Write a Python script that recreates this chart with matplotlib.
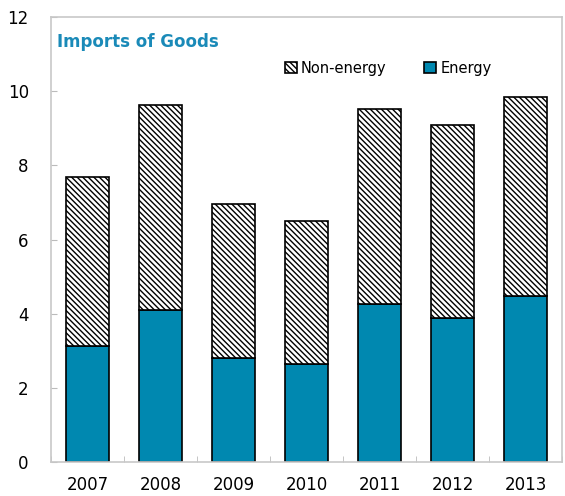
import numpy as np
import matplotlib
matplotlib.use('Agg')
from matplotlib import pyplot as plt

years = ['2007', '2008', '2009', '2010', '2011', '2012', '2013']
energy = [3.14, 4.11, 2.81, 2.65, 4.27, 3.89, 4.49]
total = [7.70, 9.62, 6.97, 6.51, 9.51, 9.08, 9.84]
non_energy = [t - e for t, e in zip(total, energy)]

plt.rcParams['hatch.color'] = '#7a7a7a'
plt.rcParams['hatch.linewidth'] = 1.0

fig = plt.figure(figsize=(5.65, 4.96), dpi=100)
ax = fig.add_axes([0.0903, 0.0685, 0.9045, 0.897])

x = np.arange(len(years))
w = 0.6
b1 = ax.bar(x, energy, w, color='#0088b0', edgecolor='black', linewidth=1.2, label='Energy')
b2 = ax.bar(x, non_energy, w, bottom=energy, color='white', edgecolor='black',
            linewidth=1.2, hatch='\\\\\\\\\\\\', label='Non-energy')

ax.set_xlim(-0.5, 6.48)
ax.set_ylim(0, 12)
ax.set_yticks(np.arange(0, 13, 2))
ax.set_xticks(x)
ax.set_xticklabels(years)
ax.set_xticks(np.arange(-0.5, 7, 1), minor=True)
ax.tick_params(axis='x', which='major', length=0, pad=10, labelsize=12)
ax.tick_params(axis='x', which='minor', direction='in', length=4, color='#bbbbbb')
ax.tick_params(axis='y', direction='in', length=4, color='#bbbbbb', labelsize=12, pad=16)
for s in ax.spines.values():
    s.set_color('#c8c8c8')
    s.set_linewidth(1.2)

ax.text(0.012, 0.965, 'Imports of Goods', transform=ax.transAxes, color='#1a8ab8',
        fontsize=12, fontweight='bold', va='top', ha='left')

ax.legend([b2, b1], ['Non-energy', 'Energy'], loc='center', bbox_to_anchor=(0.66, 0.885),
          ncol=2, frameon=False, fontsize=10.5, handlelength=0.8, handleheight=0.8,
          handletextpad=0.3, columnspacing=2.6)

fig.savefig('out.png', dpi=100)
